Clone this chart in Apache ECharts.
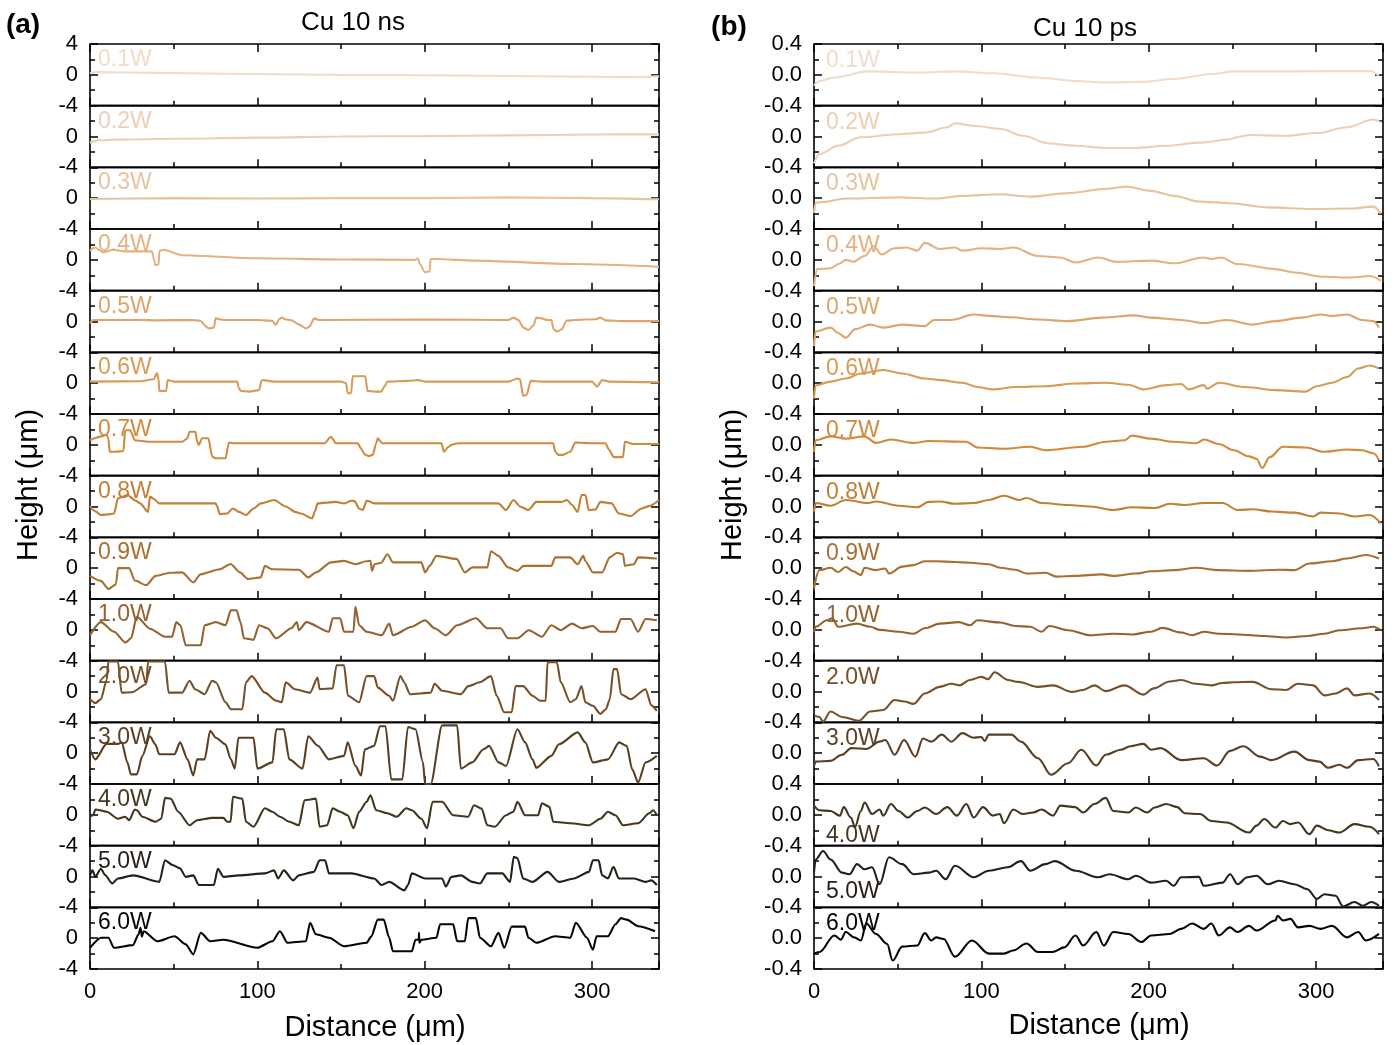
<!DOCTYPE html>
<html><head><meta charset="utf-8">
<script src="https://cdn.jsdelivr.net/npm/echarts/dist/echarts.min.js"></script>
<style>html,body{margin:0;padding:0;background:#fff}#c{width:1395px;height:1045px}</style>
</head><body><div id="c"></div>
<script>
const powers = ['0.1W','0.2W','0.3W','0.4W','0.5W','0.6W','0.7W','0.8W','0.9W','1.0W','2.0W','3.0W','4.0W','5.0W','6.0W'];
const colors = ['#F2DCC7','#EDCFB2','#E8C39E','#E2B282','#DDA56C','#D89B58','#D08B3E','#C27F36','#A87134','#946231','#765028','#5A3F22','#45361F','#261F17','#050505'];
const panelTitles = ['Cu 10 ns','Cu 10 ps'];
const panelTags = ['(a)','(b)'];
const xTitle = 'Distance (\u03bcm)';
const yTitle = 'Height (\u03bcm)';

// ---- Cu 10 ns : [distance (um), height (um)] ----
const ns01 = [[0,0.2],[4,0.35],[20,0.3],[60,0.2],[100,0.1],[150,0.0],[200,-0.05],[250,-0.15],[300,-0.25],[325,-0.3],[340,-0.2]];
const ns02 = [[0,-0.8],[5,-0.5],[15,-0.4],[50,-0.3],[100,-0.15],[150,0.0],[200,0.05],[250,0.15],[300,0.25],[335,0.3],[340,0.25]];
const ns03 = [[0,-0.1],[50,0.0],[100,-0.05],[150,0.0],[200,0.0],[250,0.1],[300,0.0],[340,-0.15]];
const ns04 = [[0,1.2],[3,1.6],[8,1.0],[14,1.3],[20,1.1],[37,1.1],[38.5,-0.2],[39,-0.7],[41,-0.6],[41.5,1.2],[44,1.3],[55,0.6],[100,0.2],[150,0.05],[194,0.0],[196,0.2],[197,-0.5],[200,-1.6],[203,-1.5],[203.5,0.1],[207,0.1],[230,-0.1],[290,-0.55],[340,-0.9]];
const ns05 = [[0,-0.2],[2,0.2],[30,0.2],[40,0.15],[60,0.2],[66,0.1],[69,-0.6],[71,-0.9],[74,-0.8],[75,0.4],[80,0.2],[100,0.2],[109,0.1],[111,-0.45],[113,0.3],[114.6,0.5],[117,0.25],[120,0.2],[125,-0.4],[129,-0.9],[131,-0.7],[134,0.4],[137,0.2],[200,0.25],[250,0.2],[253,0.5],[256,0.2],[259,-0.8],[262,-1.1],[265,-0.5],[266.7,0.5],[270,0.4],[273,0.2],[275.7,0.2],[277,-1.0],[279,-1.3],[282,-1.0],[284.7,0.1],[290,0.2],[302,0.3],[305,0.5],[308,0.15],[320,0.05],[340,0.05]];
const ns06 = [[0,0.2],[30,0.25],[38,0.5],[40,1.3],[41,0.5],[41.4,-1.0],[45.5,-1.0],[46.4,0.4],[50,0.2],[88,0.2],[88.7,-0.5],[90,-1.0],[95,-1.1],[101,-0.9],[102.5,0.3],[103.4,0.4],[110,0.2],[150,0.2],[153,0.0],[154,-1.3],[156,-1.3],[157,0.9],[164.5,0.9],[165.8,-1.0],[170,-1.1],[174,-1.1],[176,-0.4],[177.7,0.2],[190,0.3],[196,0.4],[200,0.2],[250,0.2],[255.4,0.6],[257,0.5],[258.8,-1.65],[261,-1.5],[263.3,0.3],[270,0.2],[300,0.2],[303,-0.45],[306,0.4],[310,0.2],[340,0.1]];
const ns07 = [[0,0.6],[7,1.1],[10,1.3],[11,0.8],[11.7,-0.9],[15,-0.9],[20,-0.8],[21,1.9],[24,1.9],[26.8,0.6],[35,0.4],[55,0.4],[58,0.8],[59.5,1.7],[63,1.7],[64,0.4],[65,0.0],[67,0.85],[70.7,0.85],[73,-1.5],[75,-1.75],[81,-1.75],[83,0.3],[86,0.2],[140,0.2],[144,1.05],[147,0.2],[160,0.2],[162,-0.5],[164,-1.2],[166.4,-1.45],[169,-1.3],[171,0.2],[172,0.85],[174.5,0.2],[210,0.2],[211.5,-0.9],[214,-0.3],[216,0.0],[220,0.2],[276.8,0.2],[278,-0.9],[280,-1.3],[282.4,-1.3],[287,-0.9],[290,0.3],[300,0.2],[308,0.2],[310,-0.6],[313,-1.6],[318.5,-1.6],[319.6,0.4],[325,0.1],[340,0.1]];
const ns08 = [[0,0.05],[3,-0.6],[6.5,-1.1],[12,-1.0],[14.4,-0.9],[16.7,1.05],[22.3,1.5],[27,0.8],[30,0.4],[34.7,-0.7],[35.8,1.3],[38,1.0],[41.4,0.4],[60,0.4],[75,0.4],[76,0.0],[77.5,-1.0],[82,-0.9],[85.4,-0.25],[89,-0.7],[93.2,-1.1],[97.7,-0.25],[102,0.4],[110,0.85],[117,0.0],[122.5,-0.7],[126,-0.9],[132.7,-1.55],[134.5,-0.6],[136,0.4],[147,0.6],[152,0.4],[156,0.75],[158,0.7],[161,-0.3],[163,-0.45],[165.3,0.75],[170,0.4],[200,0.4],[244,0.4],[248.6,-0.45],[253,0.85],[257,0.0],[262,-0.45],[266.7,0.6],[275,0.6],[282,0.6],[285,0.85],[288,0.2],[291.4,-0.7],[293.7,1.5],[296,1.5],[298,-0.45],[302,-0.4],[305,0.6],[311.7,0.4],[316,-0.9],[323,-1.25],[329.7,-0.25],[334,0.05],[340,0.85]];
const ns09 = [[0,-1.0],[6.5,-1.65],[11,-2.7],[15.5,-2.1],[16.7,0.0],[23.4,0.0],[26.8,-1.6],[33.6,-2.2],[39.2,-1.0],[48,-0.6],[55,-0.55],[61.7,-1.85],[66,-0.8],[77.5,-0.15],[84,0.55],[89.6,-0.55],[94.4,-1.4],[102,-1.2],[104.5,0.3],[109,-0.15],[124.8,-0.2],[130.4,-1.2],[135,-0.55],[144,0.75],[151.8,0.95],[158.6,0.5],[165,0.9],[167.6,0.95],[168.5,-0.35],[170,0.5],[174,0.7],[177.7,1.8],[181,0.75],[198,0.75],[200.2,-0.55],[203,0.3],[207,1.6],[219,1.2],[224,-0.55],[228.5,0.1],[237.4,0.1],[239.6,2.2],[244,1.6],[249.8,0.1],[255.4,-0.35],[259,0.3],[275.7,0.3],[278,1.4],[287,1.4],[291.4,0.5],[294.8,1.6],[296,0.9],[300.5,-0.55],[306,-0.55],[310.6,1.4],[315,2.0],[318.5,1.8],[319.6,0.3],[325,0.5],[327.5,1.4],[338.7,1.25]];
const ns10 = [[0,-0.7],[6.5,1.0],[14.4,-0.25],[21.2,-1.65],[24.5,-1.1],[28,1.7],[35.8,0.15],[44.8,-0.9],[49,-0.9],[51.6,1.0],[54,0.6],[57.2,-2.0],[66.2,-2.0],[68.5,0.6],[75.2,1.0],[81,0.6],[84.2,2.55],[87.6,2.55],[89.9,1.0],[92,-1.1],[97.7,-1.3],[101,0.6],[106,0.2],[111.3,-1.1],[120.3,0.2],[123.6,1.0],[124.8,-0.05],[129.3,1.0],[142.8,-0.25],[145,1.5],[149.5,1.5],[151.8,-0.25],[157.4,-0.25],[158.6,3.0],[160.8,0.6],[165.3,-0.25],[174.3,-0.7],[178.8,0.8],[181,-0.7],[192.3,0.4],[200.2,1.25],[205.9,0.2],[212.6,-0.7],[219.4,0.6],[230.6,1.5],[237.4,0.2],[245.3,0.2],[249.8,-1.1],[255.4,-1.1],[262.2,-0.05],[270,-0.9],[275.7,0.6],[281.3,-0.05],[288,0.8],[293.7,0.2],[300.5,0.5],[305,-0.25],[314,-0.25],[317.3,1.4],[323,1.4],[327.5,-0.25],[332,1.4],[338.7,1.25]];
const ns11 = [[0,-1.0],[3.2,-1.5],[6.5,-1.0],[10,1.5],[11,3.9],[16.7,3.9],[18.9,-0.15],[25,-0.1],[33.6,0.95],[34.7,3.9],[44.8,3.9],[47,-0.15],[55,-0.15],[59.5,1.4],[62.8,0.3],[68.5,-0.35],[73,1.4],[75.2,1.2],[81,-1.4],[84.2,-2.3],[91,-2.3],[93.2,1.2],[96.6,2.0],[104.5,-0.15],[111.3,-1.2],[114.6,-1.4],[116.9,1.2],[122.5,0.3],[131.5,-0.15],[136,1.8],[137.2,0.3],[145,0.4],[147.3,3.4],[151.8,3.4],[154.1,-0.55],[160.8,-1.4],[165.3,2.0],[169.8,2.0],[172,0.5],[178.8,-0.55],[181,-1.2],[185.5,2.0],[187.7,1.2],[191.2,-0.35],[203.6,-0.15],[205.9,1.0],[210.4,0.1],[221.6,-0.35],[226.1,0.7],[232.9,1.2],[239.6,2.0],[243,-0.55],[247.5,-2.7],[252,-2.7],[254.3,0.7],[258.8,0.7],[264.4,-0.55],[269,-1.2],[272.3,-1.2],[273.4,3.8],[279,3.8],[281.3,1.2],[287,-1.4],[290.3,-1.0],[293.7,0.7],[296,-1.4],[300.5,-1.85],[305,-2.9],[308.3,-2.3],[310.6,-1.0],[312.8,2.9],[315,2.9],[317.3,-0.35],[323,-1.0],[332,0.3],[335.4,-1.8],[338.7,-2.5]];
const ns12 = [[0,0.5],[3.2,-0.8],[9.9,1.2],[16.7,1.2],[19,1.4],[22.3,-1.2],[24.5,-2.75],[28,-2.75],[31.3,-0.35],[35.8,2.2],[39,1.15],[41.4,-0.15],[50.5,-0.15],[53.8,1.4],[58.3,-0.8],[61.7,-2.9],[64,-0.8],[68.5,-0.8],[71.8,2.9],[75.2,2.0],[80.9,1.15],[84.2,-0.8],[86.5,-2.0],[88.7,2.0],[97.7,2.0],[100,-2.0],[109,-1.2],[111.3,3.1],[115.8,3.1],[119.1,-0.8],[127,-2.0],[130.4,2.2],[136,1.0],[142.8,-0.8],[151.8,-0.35],[154,1.4],[158.6,-1.65],[162,-2.9],[164.2,0.5],[169.8,0.95],[173.2,3.5],[176.6,3.5],[180,-3.4],[186.6,-3.4],[190,3.4],[194.5,3.1],[199,-1.2],[200.2,-4.0],[203.6,-4.0],[210.4,3.6],[219.4,3.6],[221.6,-2.0],[228.4,-1.2],[235.1,0.5],[238.5,0.95],[244.1,-1.2],[248.6,-1.65],[255.4,3.1],[260,1.4],[264.4,-0.8],[266.7,-1.9],[275.7,-0.35],[280.2,1.15],[291.4,2.7],[296,1.4],[300.5,-1.2],[309.5,-0.8],[316.2,1.4],[320.7,0.95],[324,-2.1],[327.5,-3.8],[332,-1.2],[338.7,-0.35]];
const ns13 = [[0,-0.25],[2,0.0],[3.2,0.7],[10,0.4],[16.7,-0.5],[21,-0.25],[23.4,-0.7],[26.8,0.7],[28,0.6],[31.3,-0.25],[39.2,-0.9],[42.6,-0.5],[44.8,2.2],[48.2,2.1],[52.7,0.4],[59.5,-1.35],[64,-0.7],[73,-0.4],[79.7,-0.4],[82,-0.9],[84,-0.9],[85.4,2.35],[91,2.1],[93.2,-0.9],[97.7,-1.55],[104.5,0.85],[109,0.4],[113.5,-0.25],[119.1,-0.9],[124.8,-1.35],[128.2,1.9],[135,2.1],[137.2,-1.55],[141.7,-1.35],[145,0.85],[149.5,0.4],[154,-0.05],[157.4,-1.75],[160.8,0.4],[165.3,1.7],[167.6,2.55],[171,0.6],[177.7,0.2],[183.3,-0.25],[189,0.85],[192.3,0.6],[198,-0.5],[201.4,-1.75],[204.7,1.7],[210.4,1.7],[217,-0.05],[226,-0.25],[229.5,1.25],[234,0.8],[237.4,-1.35],[241.9,-1.55],[248.6,-0.05],[253,0.4],[255.4,1.7],[260,-0.05],[267.8,-0.05],[270,1.5],[274.5,1.05],[276.8,-0.9],[287,-1.1],[298.2,-1.35],[305,-0.5],[309.5,0.4],[314,-0.05],[318.5,-1.35],[327.5,-1.1],[334.2,0.2],[336.5,0.6],[338.7,-0.05]];
const ns14 = [[0,0.15],[1.5,0.8],[3.2,-0.05],[6.5,1.0],[9,0.2],[13.3,-0.9],[16.7,-0.25],[25.7,0.15],[41.4,-0.7],[44.8,2.1],[49.3,1.5],[53.8,1.05],[57.2,-0.05],[61.7,0.15],[65,-1.1],[74,-1.1],[76.4,1.0],[79.7,-0.05],[89,0.15],[104.5,0.4],[110,0.8],[112.4,-0.25],[115.8,0.8],[121.4,-0.5],[124.8,0.15],[133.8,0.6],[137.2,2.1],[140.5,2.1],[142.8,0.4],[156.3,0.4],[169.8,-0.25],[174.3,-1.1],[178.8,-0.7],[187.8,-1.8],[190,-1.1],[192.3,0.4],[200.2,-0.25],[210.4,-0.25],[212.6,-1.3],[216,-0.05],[221.6,0.15],[228.4,-0.7],[233,-0.9],[237.4,0.4],[246.4,0.4],[251,-0.7],[253.2,2.55],[255.4,2.4],[258.8,-0.25],[264.4,-0.7],[273.4,0.6],[280.2,-0.7],[289.2,-0.25],[298.2,0.6],[300.5,2.1],[303.9,2.1],[306,0.15],[309.5,-0.25],[312.8,1.25],[316,-0.25],[325.2,-0.25],[332,-0.7],[335.4,-0.5],[338.7,-1.1]];
const ns15 = [[0,-1.25],[6.7,0.05],[11,0.05],[14.4,-1.25],[25.7,-0.9],[29,0.5],[30.2,1.35],[31,0.2],[32,0.9],[40.3,-0.4],[50.5,0.25],[57.2,-0.8],[61.7,-2.1],[66.2,0.7],[71.8,-0.4],[79.7,-0.2],[100,-1.25],[109,-0.4],[113.5,0.9],[118,-0.6],[129,-0.4],[131.5,2.0],[135,0.5],[142.8,0.05],[151.8,-1.05],[165.3,-0.6],[168,0.2],[172,2.4],[175.5,2.4],[178.8,0.05],[181,-1.7],[192.3,-1.7],[194.5,-0.2],[196.4,-0.2],[196.6,0.7],[196.8,-0.6],[198,-0.2],[207,0.05],[209.2,1.8],[217,1.8],[219.4,-0.4],[224,-0.4],[226,2.6],[230.6,2.6],[233,0.05],[239.6,-1.05],[244.1,0.7],[247.5,-1.25],[252,1.5],[259.9,1.5],[262,0.05],[266.7,-0.6],[278,0.25],[287,0.05],[290.3,2.0],[297,0.05],[300.5,-1.5],[302.7,0.25],[309.5,0.25],[314,1.8],[317.3,2.6],[320.7,2.4],[327.5,1.55],[337.6,0.9]];

// ---- Cu 10 ps : [distance (um), height (um)] ----
const ps01 = [[0,-0.14],[3.2,-0.08],[12,-0.035],[32.4,0.045],[61.7,0.03],[84,0.045],[106.8,0.02],[133.8,-0.035],[156.3,-0.08],[174.3,-0.1],[196.8,-0.09],[214.9,-0.055],[237.4,0.01],[251,0.045],[287,0.045],[332,0.05],[337.6,-0.01]];
const ps02 = [[0,-0.35],[3.2,-0.23],[14.4,-0.12],[28,-0.01],[50.5,0.03],[66.2,0.05],[79.7,0.12],[84.2,0.17],[95.5,0.14],[111.3,0.1],[124.8,0.01],[140.5,-0.09],[156.3,-0.12],[174.3,-0.15],[192.3,-0.15],[210.4,-0.12],[230.6,-0.08],[248.6,-0.035],[255,0.0],[260,0.02],[282.4,0.01],[300.5,0.045],[318.5,0.12],[334.2,0.22],[338.7,0.18]];
const ps03 = [[0,-0.19],[1,-0.06],[5.4,-0.05],[19,-0.005],[50.5,0.01],[73,-0.005],[88.7,0.03],[111.3,0.05],[129.3,0.02],[151.8,0.065],[174.3,0.12],[186.7,0.15],[201.4,0.095],[214.9,0.03],[230.6,-0.045],[248.6,-0.065],[271.2,-0.12],[298.2,-0.14],[320.7,-0.135],[334.2,-0.11],[338.7,-0.2]];
const ps04 = [[0,-0.34],[2,-0.12],[9.9,-0.11],[15,-0.05],[19,0.0],[23.4,-0.025],[30.2,0.05],[35.8,0.18],[40.3,0.07],[48.2,0.15],[55,0.16],[61.7,0.12],[66.2,0.22],[75.2,0.14],[84.2,0.16],[88.7,0.12],[100,0.15],[111.3,0.14],[119.1,0.16],[133.8,0.05],[147.3,0.03],[156.3,-0.035],[169.8,0.03],[181,-0.025],[201.4,-0.01],[214.9,-0.045],[232.9,0.03],[237.4,0.01],[243,0.03],[253.2,-0.055],[275.7,-0.12],[287,-0.165],[305,-0.22],[320.7,-0.23],[332,-0.21],[338.7,-0.27]];
const ps05 = [[0,-0.32],[1,-0.13],[9.9,-0.08],[14.4,-0.15],[19,-0.21],[24.5,-0.1],[33.6,-0.04],[41.4,-0.08],[52.7,-0.04],[66.2,-0.06],[71.8,0.02],[82,0.02],[95.5,0.09],[106.8,0.07],[118,0.055],[133.8,0.025],[151.8,0.005],[172,0.05],[191.2,0.08],[201.4,0.05],[219.4,0.02],[232.9,-0.02],[246.4,0.02],[262.2,-0.04],[275.7,0.005],[291.4,0.05],[302.7,0.09],[309.5,0.07],[318.5,0.09],[327.5,0.02],[334.2,0.005],[337.6,-0.08]];
const ps06 = [[0,-0.2],[1,-0.03],[9.9,0.02],[19,0.06],[28,0.125],[41.4,0.17],[52.7,0.125],[66.2,0.06],[75.2,0.04],[88.7,0.005],[97.7,-0.05],[106.8,-0.08],[120.3,-0.05],[138.3,-0.04],[156.3,-0.005],[174.3,0.005],[187.8,-0.02],[196.8,-0.08],[210.4,-0.025],[219.4,-0.01],[223.9,-0.08],[232.9,-0.025],[235,-0.07],[241.9,0.005],[257.7,-0.05],[275.7,-0.09],[293.7,-0.11],[300.5,-0.04],[309.5,0.005],[318.5,0.08],[325.2,0.19],[332,0.23],[337.6,0.19]];
const ps07 = [[0,-0.09],[1,0.06],[9.9,0.11],[19,0.08],[30.2,0.11],[37,0.025],[46,0.07],[59.5,0.025],[68.5,0.05],[91,0.04],[97.7,-0.035],[113.5,-0.05],[129.3,-0.025],[138.3,-0.07],[160.8,-0.025],[174.3,0.04],[185.5,0.06],[190,0.12],[201.4,0.08],[214.9,0.04],[228.4,0.02],[233,0.07],[241.9,0.01],[250.9,-0.07],[260,-0.15],[264.4,-0.18],[267.8,-0.3],[272.3,-0.16],[280.2,-0.025],[293.7,-0.035],[305,-0.09],[318.5,-0.06],[327.5,-0.07],[334.2,-0.11],[337.6,-0.2]];
const ps08 = [[0,-0.065],[1,0.045],[9.9,0.01],[19,0.085],[32.4,0.045],[37,0.065],[50.5,0.01],[61.7,-0.01],[68.5,0.06],[75.2,0.065],[84.2,0.035],[95.5,0.045],[104.5,0.085],[113.5,0.14],[122.5,0.085],[127,0.11],[136,0.045],[151.8,0.02],[165.3,0.0],[178.8,-0.045],[190,-0.01],[203.6,-0.02],[212.6,0.035],[221.6,0.02],[232.9,0.045],[244.1,0.045],[253.2,-0.045],[262.2,-0.035],[273.4,-0.065],[287,-0.08],[298.2,-0.13],[302.7,-0.08],[314,-0.09],[323,-0.13],[332,-0.11],[338.7,-0.22]];
const ps09 = [[0,-0.26],[3.2,-0.025],[9.9,0.005],[14.4,-0.05],[19,0.015],[23.4,-0.04],[28,-0.09],[30.2,0.005],[37,-0.025],[42.6,-0.005],[44.8,-0.07],[52.7,0.02],[59.5,0.04],[66.2,0.09],[73,0.09],[84.2,0.08],[93.2,0.07],[104.5,0.05],[111.3,0.005],[120.3,-0.02],[127,-0.07],[138.3,-0.06],[145,-0.11],[156.3,-0.1],[172,-0.08],[178.8,-0.1],[192.3,-0.07],[201.4,-0.04],[214.9,-0.025],[228.4,0.005],[241.9,-0.025],[260,-0.035],[277.9,-0.02],[287,-0.025],[296,0.06],[309.5,0.09],[318.5,0.125],[329.7,0.17],[337.6,0.125]];
const ps10 = [[0,-0.025],[1,0.04],[7.7,0.125],[11,0.15],[14.4,0.04],[25.7,0.08],[33.6,0.04],[39.2,0.0],[50.5,-0.025],[59.5,-0.05],[66.2,0.02],[75.2,0.08],[86.5,0.1],[93.2,0.06],[97.7,0.125],[111.3,0.095],[120.3,0.05],[129.3,0.04],[136,-0.025],[140.5,0.05],[151.8,-0.005],[165.3,-0.07],[178.8,-0.05],[190,-0.06],[201.4,-0.025],[208.1,0.025],[219.4,-0.035],[226,-0.07],[232.9,-0.025],[241.9,-0.05],[253.2,-0.06],[268.9,-0.08],[282.4,-0.1],[295,-0.08],[305,-0.05],[314,-0.005],[327.5,0.02],[334.2,0.04],[338.7,-0.005]];
const ps11 = [[0,-0.31],[3.2,-0.33],[5.4,-0.39],[9.9,-0.26],[16.7,-0.33],[26.8,-0.38],[33.6,-0.26],[41.4,-0.24],[48.2,-0.11],[54,-0.13],[59.5,-0.16],[66.2,-0.026],[75.2,0.06],[81.9,0.1],[87,0.08],[93.2,0.15],[100,0.19],[104,0.16],[107.9,0.25],[115.8,0.15],[122,0.125],[133.8,0.06],[142.8,0.08],[154.1,-0.005],[160.8,0.02],[167.6,0.08],[174.3,0.005],[185.5,0.08],[196.8,-0.04],[203,0.04],[212.6,0.13],[219.4,0.15],[228,0.1],[237.4,0.08],[244,0.11],[250.9,0.12],[262.2,0.125],[273.4,0.03],[282,0.02],[289.2,0.1],[298.2,0.08],[305,-0.05],[311.7,-0.025],[318.5,0.04],[323,-0.05],[332,-0.025],[337.6,-0.11]];
const ps12 = [[0,-0.17],[1,-0.11],[9.9,-0.1],[16.7,-0.02],[22.3,0.065],[31.3,0.055],[39.2,0.15],[42.6,0.17],[48.2,-0.02],[53.8,0.17],[60.6,-0.045],[65.1,0.19],[70,0.15],[76.4,0.24],[82,0.15],[88.7,0.26],[95,0.2],[100,0.21],[102,0.16],[104.5,0.24],[118,0.24],[123.6,0.15],[133.8,-0.065],[141.7,-0.28],[151.8,-0.13],[159.7,0.045],[168.7,-0.16],[174.3,-0.02],[183.3,0.045],[189,0.09],[196.8,0.12],[201.4,0.045],[207,0.065],[219.4,-0.09],[232.9,-0.065],[240.8,-0.16],[248.6,0.03],[256.5,0.09],[266.7,-0.045],[273.4,-0.09],[287,0.02],[296,-0.09],[302,-0.11],[307.2,-0.19],[314,-0.15],[318.5,-0.19],[325.2,-0.09],[334.2,-0.075],[337.6,-0.17]];
const ps13 = [[0,0.12],[3.2,0.06],[9.9,0.05],[15.5,-0.01],[17.8,0.1],[22,-0.035],[24.5,-0.155],[28,0.05],[30.2,0.16],[34.7,0.01],[39.2,0.07],[41.4,-0.01],[46,0.14],[50.5,0.05],[56,-0.035],[61.7,0.05],[66.2,0.095],[73,0.01],[79.7,0.1],[85.4,-0.01],[91,0.14],[95.5,-0.035],[101,0.1],[106.8,-0.01],[111,0.01],[113.5,-0.11],[119.1,0.07],[124.8,0.01],[131,0.03],[136,0.07],[142.8,-0.01],[147.3,0.12],[156,0.1],[160.8,0.03],[167.6,0.14],[174.3,0.22],[178.8,0.05],[187.8,0.03],[192.3,0.095],[199.1,0.03],[203.6,0.095],[210.4,0.14],[217,0.1],[221.6,0.02],[230.6,0.01],[237.4,-0.08],[246.4,-0.1],[260,-0.23],[264.4,-0.14],[269,-0.055],[275.7,-0.165],[280.2,-0.08],[284.7,-0.12],[289.2,-0.1],[296,-0.25],[300.5,-0.14],[307.2,-0.2],[314,-0.23],[323,-0.12],[332,-0.155],[337.6,-0.25]];
const ps14 = [[0,0.05],[1,0.22],[5.4,0.33],[9.9,0.22],[16.7,0.05],[21.2,0.03],[25.7,0.16],[30.2,0.095],[34.7,0.12],[39.2,-0.1],[44.8,0.25],[52.7,0.16],[59.5,0.03],[68.5,0.05],[73,0.075],[78.6,-0.035],[84.2,0.14],[95.5,-0.01],[104.5,0.075],[115.8,0.12],[123.6,0.2],[129.3,0.075],[138.3,0.16],[143.9,0.2],[156.3,0.075],[169.8,-0.01],[176.6,0.03],[187.8,-0.035],[192.3,0.01],[201.4,-0.08],[210.4,-0.055],[214.9,-0.12],[219.4,-0.01],[230,-0.005],[232.9,-0.12],[244.1,-0.08],[248.6,0.03],[253.2,-0.1],[258.8,-0.01],[264.4,0.01],[271.2,-0.1],[277.9,-0.055],[287,-0.1],[294.8,-0.165],[300.5,-0.29],[305,-0.23],[311.7,-0.25],[316.2,-0.39],[323,-0.33],[328,-0.38],[333,-0.33],[337.6,-0.38]];
const ps15 = [[0,-0.2],[3.2,-0.18],[12.2,0.035],[16,-0.02],[19,0.08],[24,0.01],[28,-0.03],[31.3,0.19],[37,0.055],[43.7,-0.075],[47,-0.29],[52.7,-0.11],[61.7,-0.095],[66.2,0.065],[70,-0.03],[73,0.01],[77.5,-0.01],[84.2,-0.24],[94.4,-0.03],[104.5,-0.2],[113.5,-0.2],[119,-0.16],[127,-0.07],[133.8,-0.18],[142.8,-0.18],[149.5,-0.12],[156.3,0.035],[160.8,-0.095],[168.7,0.08],[173.2,-0.095],[178.8,0.08],[187.8,0.055],[195.7,-0.05],[201.4,0.035],[212.6,0.055],[219.4,0.12],[226,0.19],[232.9,0.12],[237.4,0.19],[241.9,0.035],[248.6,0.14],[253,0.08],[260,0.16],[264.4,0.1],[275.7,0.23],[277,0.29],[280.2,0.23],[284.7,0.25],[289.2,0.14],[296,0.16],[302.7,0.12],[309.5,0.16],[318.5,0.01],[325.2,0.08],[329.7,-0.03],[337.6,0.055]];

const nsData = [ns01,ns02,ns03,ns04,ns05,ns06,ns07,ns08,ns09,ns10,ns11,ns12,ns13,ns14,ns15];
const psData = [ps01,ps02,ps03,ps04,ps05,ps06,ps07,ps08,ps09,ps10,ps11,ps12,ps13,ps14,ps15];

// ---------------- layout ----------------
const FONT = '"Liberation Sans", Arial, Helvetica, sans-serif';
const TOP = 44, BOTTOM = 969, N = 15, H = (BOTTOM - TOP) / N, W = 569;
const tickStyle = {color:'#000', width:1.5};

const panels = [
  {left:90, data:nsData, ymax:4, labelDx:8, smooth:0.25,
   fmt:(v,i)=>{ if (Math.abs(v-4)<1e-6 && i>0) return ''; return String(v); },
   labelDy:i=>16},
  {left:814, data:psData, ymax:0.4, labelDx:12, smooth:0.35,
   fmt:(v,i)=>{
     const s = (Math.abs(v)<1e-9) ? '0.0' : v.toFixed(1);
     if (v>0.2 && i>0 && i!==12) return '';
     if (v<-0.2 && i===11) return '';
     return s; },
   labelDy:i=> (i===12 ? 52 : (i===13 ? 46 : 17))}
];

const grids=[], xAxes=[], yAxes=[], series=[], graphics=[];
const xBase = {type:'value', min:0, max:340, axisLine:{show:false, onZero:false}, splitLine:{show:false}};
panels.forEach((p,pi)=>{
  for (let i=0;i<N;i++){
    const g = grids.length;
    const top = TOP + i*H;
    grids.push({left:p.left, top:top, width:W, height:H, show:true, borderColor:'#000', borderWidth:1.6,
                backgroundColor:'rgba(0,0,0,0)', containLabel:false, outerBoundsMode:'none'});
    const last = (i===N-1);
    const xi = xAxes.length;
    xAxes.push(Object.assign({}, xBase, {gridIndex:g, interval:100, position:'bottom',
      axisTick:{show:true, inside:true, length:8, lineStyle:tickStyle},
      axisLabel:{show:last, fontSize:22, color:'#000', fontFamily:FONT, margin:12,
        formatter:v=> (v%100===0 ? String(v) : '')}}));
    xAxes.push(Object.assign({}, xBase, {gridIndex:g, interval:50, position:'bottom', axisLabel:{show:false},
      axisTick:{show:true, inside:true, length:5, lineStyle:tickStyle}}));
    if (i===0){
      xAxes.push(Object.assign({}, xBase, {gridIndex:g, interval:100, position:'top', axisLabel:{show:false},
        axisTick:{show:true, inside:true, length:8, lineStyle:tickStyle}}));
      xAxes.push(Object.assign({}, xBase, {gridIndex:g, interval:50, position:'top', axisLabel:{show:false},
        axisTick:{show:true, inside:true, length:5, lineStyle:tickStyle}}));
    }
    const yi = yAxes.length;
    const ii = i;
    yAxes.push({type:'value', gridIndex:g, min:-p.ymax, max:p.ymax, interval:p.ymax, position:'left',
      axisLine:{show:false, onZero:false}, splitLine:{show:false}, minorSplitLine:{show:false},
      axisTick:{show:true, inside:true, length:8, lineStyle:tickStyle},
      minorTick:{show:true, splitNumber:2, length:5, lineStyle:tickStyle},
      axisLabel:{show:true, fontSize:22, color:'#000', fontFamily:FONT, margin:12,
        formatter:v=>p.fmt(v,ii)}});
    yAxes.push({type:'value', gridIndex:g, min:-p.ymax, max:p.ymax, interval:p.ymax, position:'right',
      axisLine:{show:false, onZero:false}, splitLine:{show:false}, minorSplitLine:{show:false},
      axisTick:{show:true, inside:true, length:8, lineStyle:tickStyle},
      minorTick:{show:true, splitNumber:2, length:5, lineStyle:tickStyle},
      axisLabel:{show:false}});
    series.push({type:'line', name:panelTitles[pi]+' '+powers[i], xAxisIndex:xi, yAxisIndex:yi,
      data:p.data[i], showSymbol:false, symbol:'none', silent:true, clip:true,
      smooth:p.smooth, smoothMonotone:'x',
      lineStyle:{color:colors[i], width:2.1}, z:3});
    graphics.push({type:'text', left:p.left+p.labelDx, top:top+p.labelDy(i)-12, z:10,
      style:{text:powers[i], fill:colors[i], font:'23px '+FONT}});
  }
});

const textEl = (txt,x,y,size,opt={}) => ({type:'text', x:x, y:y, rotation:opt.rot||0, z:10,
  style:{text:txt, x:0, y:0, align:'center', verticalAlign:'middle', textAlign:'center', textVerticalAlign:'middle',
         fill:'#000', font:(opt.bold?'bold ':'')+size+'px '+FONT}});
graphics.push(textEl(panelTitles[0], 353, 23, 26));
graphics.push(textEl(panelTitles[1], 1085, 29, 26));
graphics.push(textEl(panelTags[0], 23, 25, 28, {bold:true}));
graphics.push(textEl(panelTags[1], 729, 27, 28, {bold:true}));
graphics.push(textEl(xTitle, 375, 1028, 29));
graphics.push(textEl(xTitle, 1099, 1026, 29));
graphics.push(textEl(yTitle, 29, 485, 29, {rot:Math.PI/2}));
graphics.push(textEl(yTitle, 733, 485, 29, {rot:Math.PI/2}));

const chart = echarts.init(document.getElementById('c'), null, {renderer:'canvas', width:1395, height:1045});
chart.setOption({animation:false, backgroundColor:'#fff', grid:grids, xAxis:xAxes, yAxis:yAxes, series:series, graphic:graphics});
</script></body></html>
